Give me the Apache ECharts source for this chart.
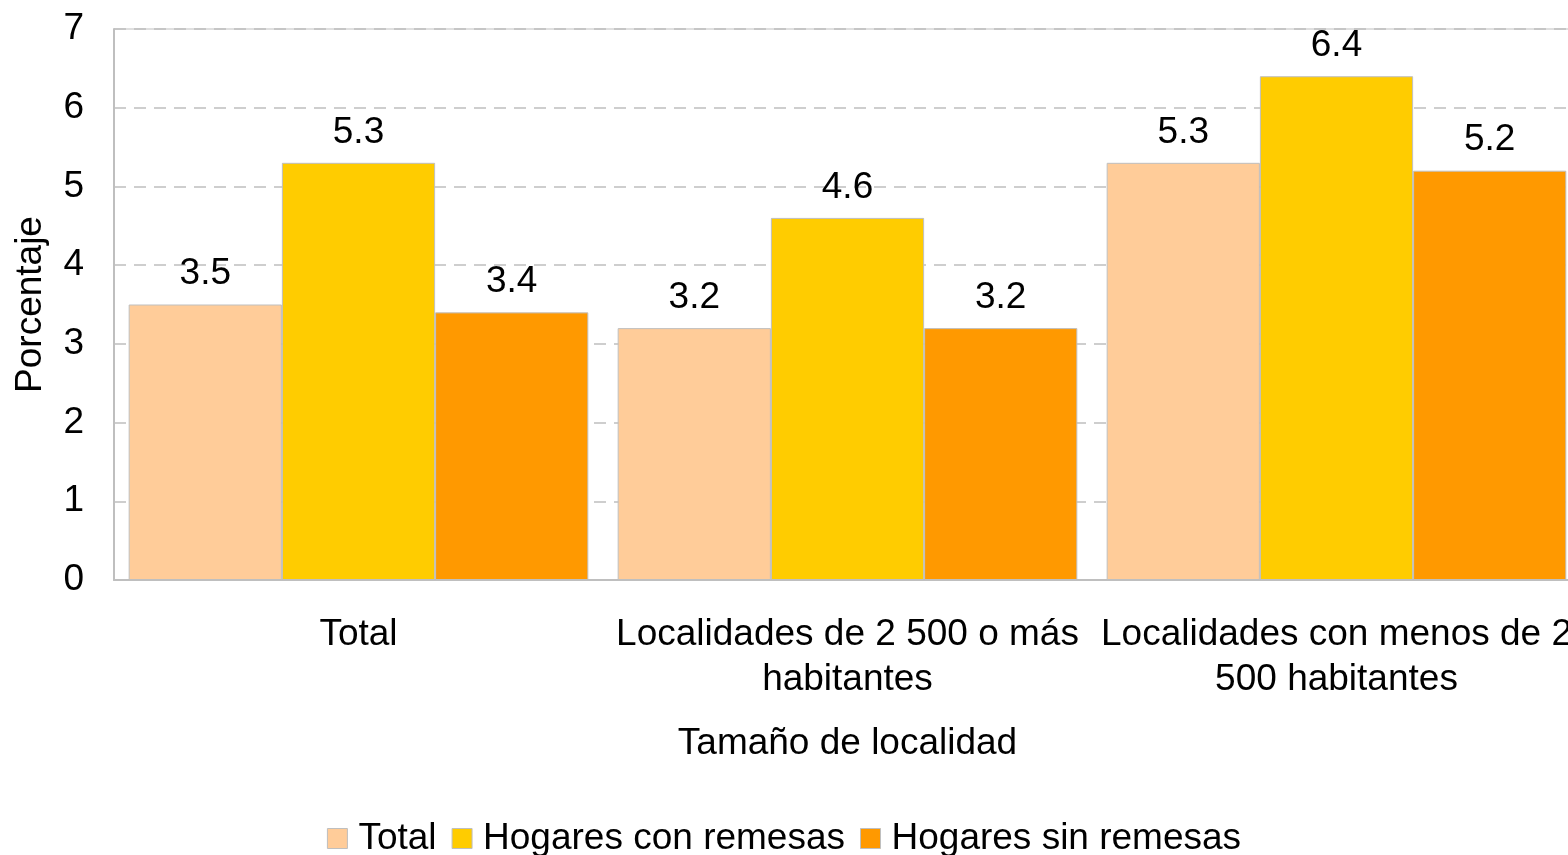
<!DOCTYPE html>
<html><head><meta charset="utf-8">
<script src="https://cdn.jsdelivr.net/npm/echarts@6/dist/echarts.min.js"></script>
<style>html,body{margin:0;padding:0;background:#fff}#c{width:1568px;height:855px}</style>
</head><body><div id="c"></div>
<script>
const categories = ['Total', 'Localidades de 2 500 o más\nhabitantes', 'Localidades con menos de 2\n500 habitantes'];
const seriesNames = ['Total', 'Hogares con remesas', 'Hogares sin remesas'];
const totalVals = [3.5, 3.2, 5.3];
const conRemesas = [5.3, 4.6, 6.4];
const sinRemesas = [3.4, 3.2, 5.2];
const colors = ['#FFCC99', '#FFCC00', '#FF9900'];
const FONT = 'Liberation Sans, Arial, sans-serif';
const FS = 37;
const chart = echarts.init(document.getElementById('c'), null, {renderer: 'canvas'});
const mk = (name, data, color) => ({
  name, type: 'bar', data, barGap: '0%', barCategoryGap: '6%',
  itemStyle: {color, borderColor: '#BFBFBF', borderWidth: 1},
  label: {show: true, position: 'top', distance: 12, color: '#000', fontSize: FS, fontFamily: FONT},
  animation: false
});
chart.setOption({
  animation: false,
  textStyle: {fontFamily: FONT},
  grid: {left: 114, top: 29, right: -13, bottom: 275, show: true, borderColor: '#BFBFBF', borderWidth: 1, containLabel: false, outerBoundsMode: 'none'},
  legend: {
    top: 815, left: 'center', itemWidth: 20, itemHeight: 20, itemGap: 15, icon: 'rect',
    textStyle: {fontSize: FS, color: '#000', fontFamily: FONT, padding: [0, 0, 0, 6]},
    itemStyle: {borderColor: '#BFBFBF', borderWidth: 1},
    data: seriesNames
  },
  xAxis: {
    type: 'category', data: categories,
    name: 'Tamaño de localidad', nameLocation: 'middle', nameGap: 145,
    nameTextStyle: {fontSize: FS, color: '#000', fontFamily: FONT},
    axisLine: {lineStyle: {color: '#BFBFBF', width: 2}},
    axisTick: {show: false},
    axisLabel: {fontSize: FS, color: '#000', fontFamily: FONT, margin: 32, lineHeight: 45, interval: 0}
  },
  yAxis: {
    type: 'value', min: 0, max: 7, interval: 1,
    name: 'Porcentaje', nameLocation: 'middle', nameGap: 65,
    nameTextStyle: {fontSize: FS, color: '#000', fontFamily: FONT},
    axisLine: {show: true, lineStyle: {color: '#BFBFBF', width: 2}},
    axisTick: {show: false},
    axisLabel: {fontSize: FS, color: '#000', fontFamily: FONT, margin: 30},
    splitLine: {lineStyle: {color: '#BFBFBF', type: [12, 8], width: 1.5}}
  },
  series: [
    mk(seriesNames[0], totalVals, colors[0]),
    mk(seriesNames[1], conRemesas, colors[1]),
    mk(seriesNames[2], sinRemesas, colors[2])
  ]
});
</script></body></html>
